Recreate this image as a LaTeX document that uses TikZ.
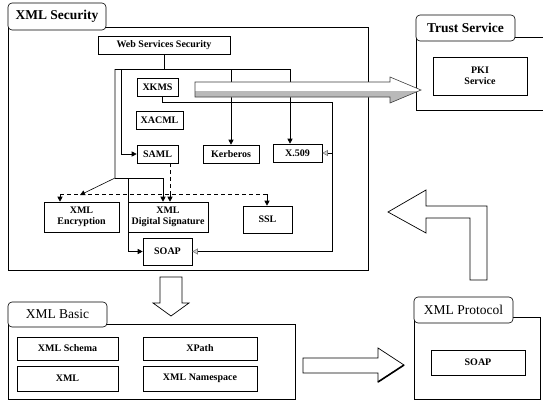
\documentclass[tikz,border=0pt]{standalone}
\usepackage{fontspec}
\setmainfont{Liberation Serif}
\usetikzlibrary{shadows,arrows.meta,calc}
\begin{document}
\begin{tikzpicture}[x=1pt,y=-1pt,
  box/.style={draw, line width=0.6pt, fill=white, inner sep=0pt, align=center,
    font=\bfseries\fontsize{10}{10.5}\selectfont,
    drop shadow={shadow xshift=1.4pt, shadow yshift=-1.4pt, fill=black!85, opacity=1}},
  cont/.style={draw, line width=0.7pt, fill=white, inner sep=0pt,
    drop shadow={shadow xshift=1.2pt, shadow yshift=-1.2pt, fill=black!85, opacity=1}},
  tab/.style={draw, line width=0.6pt, fill=white, rounded corners=4pt, inner sep=0pt},
  ttl/.style={font=\fontsize{13.5}{14}\selectfont},
  ttlb/.style={font=\bfseries\fontsize{13.5}{14}\selectfont},
  conn/.style={line width=0.6pt},
  arr/.style={conn, -{Triangle[length=5pt,width=5pt]}},
  garr/.style={conn, -{Triangle[open,length=5.5pt,width=6pt,gray,fill=gray!35]}},
  dsh/.style={line width=0.9pt, dash pattern=on 4pt off 3pt},
  hollow/.style={draw, line width=0.7pt, fill=white, line join=miter}
]
\useasboundingbox (0,0) rectangle (543,402);
\newcommand\bx[7][box]{\node[#1, minimum width={(#5-#3)*1pt}, minimum height={(#6-#4)*1pt}] (#2) at ({(#3+#5)/2},{(#4+#6)/2}) {#7};}

% containers
\bx[cont]{secbox}{8}{27}{368}{270}{}
\bx[cont]{trustbox}{416}{37}{552}{110}{}
\bx[cont]{basicbox}{8}{324}{295}{399}{}
\bx[cont]{protobox}{414}{317}{540}{399}{}
\bx[tab,ttlb]{sectab}{8}{3}{106}{30}{XML Security}
\bx[tab,ttlb]{trusttab}{416}{15}{515}{41}{Trust Service}
\bx[tab,ttl]{basictab}{8}{302}{107}{327}{XML Basic}
\bx[tab,ttl]{prototab}{414}{297}{513}{323}{XML Protocol}

% boxes
\bx{wss}{98}{36}{230}{54}{Web Services Security}
\bx{xkms}{137}{78}{178}{96}{XKMS}
\bx{xacml}{136}{111}{183}{129}{XACML}
\bx{saml}{137}{145}{178}{163}{SAML}
\bx{ker}{203}{145}{259}{163}{Kerberos}
\bx{xfive}{273}{144}{322}{162}{X.509}
\bx{enc}{44}{202}{119}{232}{XML\\Encryption}
\bx{dsig}{128}{202}{208}{232}{XML\\Digital Signature}
\bx{ssl}{243}{206}{292}{233}{SSL}
\bx{soaps}{143}{238}{192}{265}{SOAP}
\bx{pki}{433}{57}{527}{95}{PKI\\Service}
\bx{schema}{17}{337}{118}{360}{XML Schema}
\bx{xpath}{143}{337}{257}{360}{XPath}
\bx{xml}{17}{366}{118}{391}{XML}
\bx{ns}{143}{366}{257}{391}{XML Namespace}
\bx{soapp}{431}{350}{525}{375}{SOAP}

% connector points
\coordinate (tl) at (115,69);
\coordinate (tr) at (290,69);
\coordinate (ts) at (121,69);
\coordinate (tk) at (231,69);
\coordinate (ml) at (115,178);
\coordinate (mv) at (128,178);
\coordinate (encin) at (80,195);
\coordinate (dl) at (60,194);
\coordinate (dr) at (267,194);
\coordinate (dm) at (170,194);
\coordinate (rv) at (332,102);

% solid connectors
\draw[conn] (wss.south) -- (wss.south |- tl);
\draw[conn] (tl) -- (tr);
\draw[arr] (tr) -- (tr |- xfive.north);
\draw[arr] (tk) -- (tk |- ker.north);
\draw[arr] (ts) |- (saml.west);
\draw[arr] (tl) -- (ml) -- (encin);
\draw[arr] (ml) -| ($(dsig.north)+(-5,0)$);
\draw[arr] (mv) |- (soaps.west);

% dashed connectors
\draw[dsh] (saml.south -| dm) -- (dm);
\draw[dsh] (dl) -- (dr);
\draw[arr] (dm) -- (dm |- dsig.north);
\draw[arr] (dl) -- (dl |- enc.north);
\draw[arr] (dr) -- (dr |- ssl.north);

% XKMS feedback lines
\draw[conn] ($(xkms.south)+(5,0)$) |- (rv);
\draw[garr] (rv) |- (soaps.east);
\draw[garr] (rv |- xfive.east) -- (xfive.east);

% gray arrow XKMS -> PKI
\path[fill=white] (195,82) -- (390,82) -- (390,77) -- (421,90) -- (390,103) -- (390,97) -- (195,97) -- cycle;
\begin{scope}
\clip (195,82) -- (390,82) -- (390,77) -- (421,90) -- (390,103) -- (390,97) -- (195,97) -- cycle;
\fill[gray!55] (190,91) rectangle (425,110);
\end{scope}
\draw[line width=0.6pt, gray!50!black] (195,82) -- (390,82) -- (390,77) -- (421,90) -- (390,103) -- (390,97) -- (195,97) -- cycle;

% hollow block arrows
\draw[hollow] (160,277) -- (182,277) -- (182,303) -- (189,303) -- (171,316) -- (153,303) -- (160,303) -- cycle;
\draw[hollow] (303,358) -- (378,358) -- (378,348) -- (404,365) -- (378,382) -- (378,373) -- (303,373) -- cycle;
\draw[line width=1.6pt] (404,365) -- (378,382);
\draw[hollow] (388,212) -- (426,190) -- (426,206) -- (487,206) -- (487,280) -- (470,280) -- (470,218) -- (426,218) -- (426,233) -- cycle;
\end{tikzpicture}
\end{document}
